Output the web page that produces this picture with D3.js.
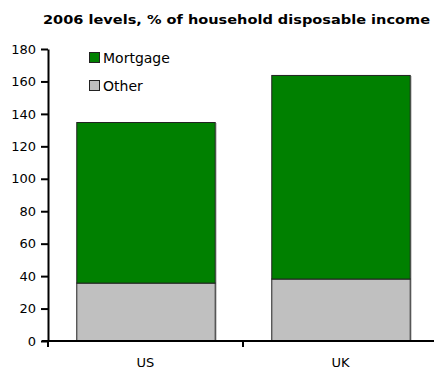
<!DOCTYPE html>
<html>
<head>
<meta charset="utf-8">
<script src="https://cdn.jsdelivr.net/npm/d3@7"></script>
<style>
  html, body { margin: 0; padding: 0; background: #fff; }
  svg { display: block; font-family: Verdana, "DejaVu Sans", sans-serif; }
</style>
</head>
<body>
<svg id="chart" width="434" height="369"></svg>
<script>
// Household debt, 2006, % of household disposable income
const categories = ["US", "UK"];
const otherValues = [36, 38.5];
const mortgageValues = [99, 125.5];
const seriesNames = ["Mortgage", "Other"];
const seriesColors = ["#008000", "#c0c0c0"];
const yTicks = [0, 20, 40, 60, 80, 100, 120, 140, 160, 180];
const title = "2006 levels, % of household disposable income";

const svg = d3.select("#chart");
const plotLeft = 48, plotRight = 438, plotTop = 49, plotBottom = 341;

const x = d3.scaleBand().domain(categories).range([plotLeft, plotRight]).paddingInner(0.29).paddingOuter(0.145);
const y = d3.scaleLinear().domain([0, 180]).range([plotBottom, plotTop]);

// Title
svg.append("text")
  .attr("x", 43).attr("y", 24)
  .attr("font-size", 13).attr("font-weight", "bold")
  .attr("textLength", 387).attr("lengthAdjust", "spacingAndGlyphs")
  .attr("fill", "#000")
  .text(title);

// Stacked data
const rows = categories.map((c, i) => ({ cat: c, Other: otherValues[i], Mortgage: mortgageValues[i] }));
const stack = d3.stack().keys(["Other", "Mortgage"])(rows);
const colorOf = { Mortgage: seriesColors[0], Other: seriesColors[1] };

// light shadow along the right edge of each bar
svg.append("g").selectAll("line").data(rows).join("line")
  .attr("x1", d => x(d.cat) + x.bandwidth() + 1.5)
  .attr("x2", d => x(d.cat) + x.bandwidth() + 1.5)
  .attr("y1", d => y(d.Other + d.Mortgage) + 1)
  .attr("y2", plotBottom)
  .attr("stroke", "#bbb").attr("stroke-width", 1);

stack.forEach(layer => {
  svg.append("g").selectAll("rect").data(layer).join("rect")
    .attr("x", d => x(d.data.cat) + 0.5)
    .attr("y", d => y(d[1]) + 0.5)
    .attr("width", x.bandwidth())
    .attr("height", d => y(d[0]) - y(d[1]))
    .attr("fill", colorOf[layer.key])
    .attr("stroke", "#222")
    .attr("stroke-width", 1);
});

// Y axis
const yAxis = svg.append("g")
  .attr("transform", `translate(${plotLeft},0)`)
  .call(d3.axisLeft(y).tickValues(yTicks).tickSize(7).tickSizeOuter(0).tickPadding(5));
yAxis.select(".domain").attr("stroke", "#000").attr("stroke-width", 2);
yAxis.selectAll(".tick line").attr("stroke", "#000").attr("stroke-width", 2);
yAxis.selectAll(".tick text").attr("font-size", 13).attr("fill", "#000")
  .attr("font-family", "Verdana, 'DejaVu Sans', sans-serif");

// X axis with tick marks at band boundaries
const xg = svg.append("g").attr("transform", `translate(0,${plotBottom})`);
xg.append("line").attr("x1", plotLeft - 6).attr("x2", 434).attr("y1", 0).attr("y2", 0)
  .attr("stroke", "#000").attr("stroke-width", 2);
const boundaries = [plotLeft, (x("US") + x.bandwidth() + x("UK")) / 2];
xg.selectAll("line.b").data(boundaries).join("line").attr("class", "b")
  .attr("x1", d => d).attr("x2", d => d).attr("y1", 0).attr("y2", 6)
  .attr("stroke", "#000").attr("stroke-width", 2);
xg.selectAll("text").data(categories).join("text")
  .attr("x", d => x(d) + x.bandwidth() / 2)
  .attr("y", 26)
  .attr("text-anchor", "middle")
  .attr("font-size", 13).attr("fill", "#000")
  .text(d => d);

// Legend
const legend = svg.append("g").attr("transform", "translate(89,52)");
seriesNames.forEach((name, i) => {
  const g = legend.append("g").attr("transform", `translate(0,${i * 28})`);
  g.append("rect").attr("x", 0.5).attr("y", 0.5).attr("width", 10).attr("height", 10)
    .attr("fill", seriesColors[i]).attr("stroke", "#222");
  g.append("text").attr("x", 14).attr("y", 10.5).attr("font-size", 14).attr("fill", "#000").text(name);
});
</script>
</body>
</html>
